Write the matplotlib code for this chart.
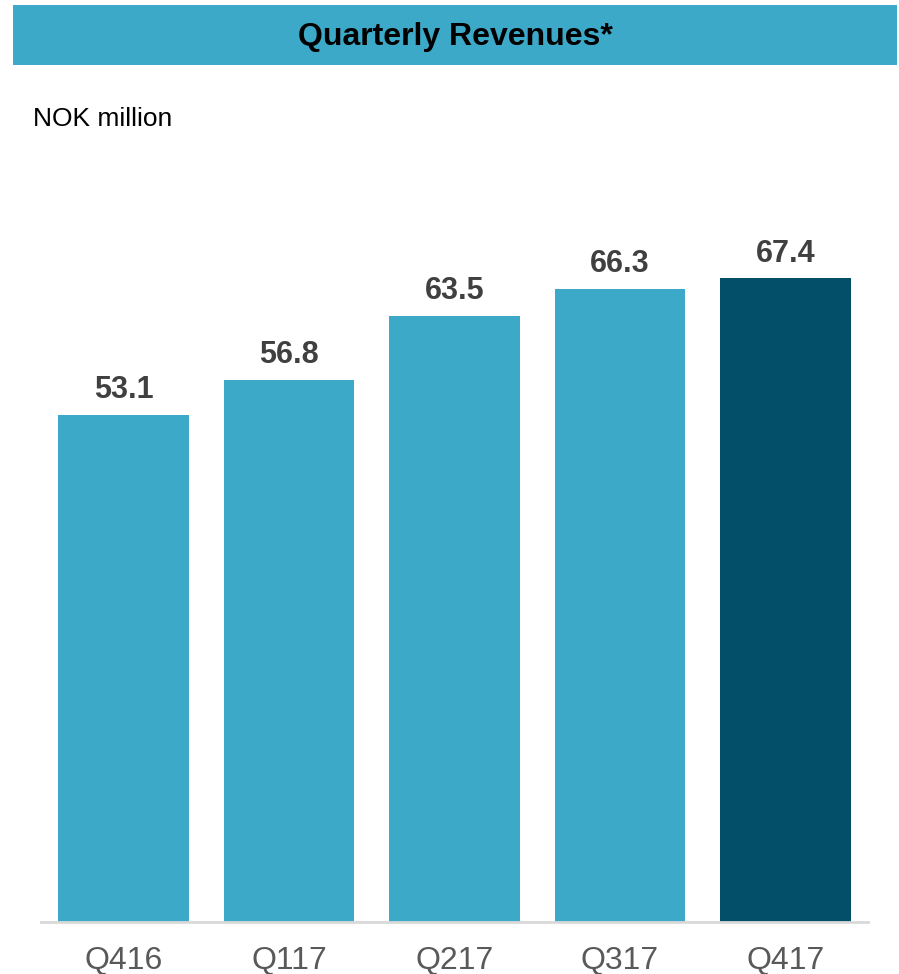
import matplotlib.pyplot as plt
from matplotlib.patches import Rectangle

quarters = ["Q416", "Q117", "Q217", "Q317", "Q417"]
revenues = [53.1, 56.8, 63.5, 66.3, 67.4]
bar_colors = ["#3da9c9", "#3da9c9", "#3da9c9", "#3da9c9", "#034f69"]

plt.rcParams["font.family"] = ["Liberation Sans", "DejaVu Sans"]

W, H = 899, 974
fig = plt.figure(figsize=(W / 100, H / 100), dpi=100)

# header band
fig.patches.append(
    Rectangle((13 / W, 1 - 65 / H), 884 / W, 60 / H, transform=fig.transFigure,
              facecolor="#3da9c9", edgecolor="none")
)
fig.text(455 / W, 1 - 37 / H, "Quarterly Revenues*", ha="center", va="center",
         fontsize=23, fontweight="bold", color="black")
fig.text(33 / W, 1 - 119 / H, "NOK million", ha="left", va="center",
         fontsize=19, color="black")

ymax = 82
px_per_unit = 9.55
ax_h = ymax * px_per_unit
ax = fig.add_axes([41 / W, (H - 922) / H, (868 - 41) / W, ax_h / H])

x = range(len(quarters))
ax.bar(x, revenues, width=0.79, color=bar_colors)
for xi, v in zip(x, revenues):
    ax.text(xi, v + 1.0, f"{v:.1f}", ha="center", va="bottom",
            fontsize=22, fontweight="bold", color="#404040")

ax.set_xlim(-0.5, 4.5)
ax.set_ylim(0, ymax)
ax.set_xticks(list(x))
ax.set_xticklabels(quarters, fontsize=23, color="#595959")
ax.tick_params(axis="x", length=0, pad=17)
ax.set_yticks([])
for s in ["top", "right", "left"]:
    ax.spines[s].set_visible(False)
ax.spines["bottom"].set_color("#d9d9d9")
ax.spines["bottom"].set_linewidth(2)

fig.savefig("out.png", dpi=100)
